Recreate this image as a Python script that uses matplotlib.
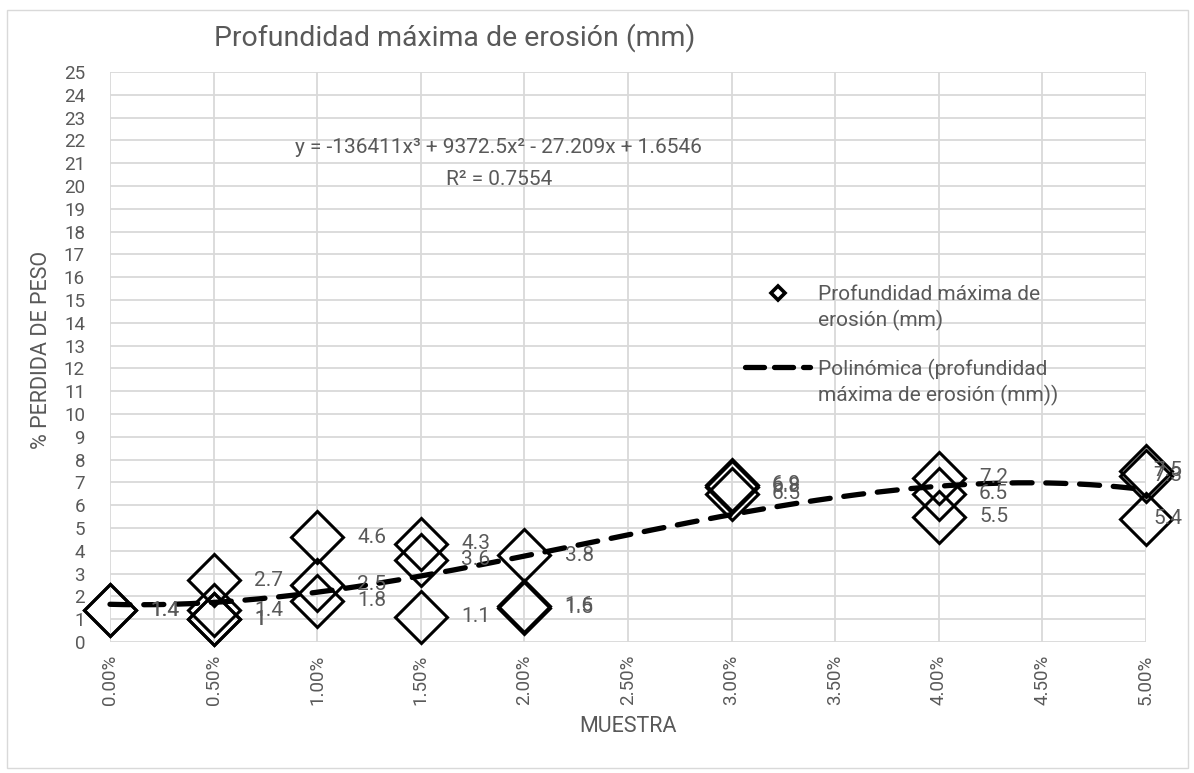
import numpy as np
import matplotlib.pyplot as plt
from matplotlib.lines import Line2D
from matplotlib.patches import Rectangle

plt.rcParams['font.family'] = ['Roboto', 'DejaVu Sans']

# muestra (% de aditivo) y profundidad máxima de erosión (mm)
muestra = [0.0, 0.0,
           0.005, 0.005, 0.005, 0.005,
           0.01, 0.01, 0.01,
           0.015, 0.015, 0.015,
           0.02, 0.02, 0.02,
           0.03, 0.03, 0.03,
           0.04, 0.04, 0.04,
           0.05, 0.05, 0.05]
profundidad = [1.4, 1.4,
               2.7, 1.4, 1, 1,
               4.6, 2.5, 1.8,
               4.3, 3.6, 1.1,
               3.8, 1.6, 1.5,
               6.9, 6.8, 6.5,
               7.2, 6.5, 5.5,
               7.5, 7.3, 5.4]
coef = [-136411, 9372.5, -27.209, 1.6546]
r2 = 0.7554
x_ticks = [0.0, 0.005, 0.01, 0.015, 0.02, 0.025, 0.03, 0.035, 0.04, 0.045, 0.05]
x_labels = ['0.00%', '0.50%', '1.00%', '1.50%', '2.00%', '2.50%', '3.00%', '3.50%', '4.00%', '4.50%', '5.00%']
y_ticks = list(range(0, 26))

gris = '#595959'
grid_c = '#d9d9d9'

fig = plt.figure(figsize=(11.94, 7.73), dpi=100)
ax = fig.add_axes([110/1194, 131/773, 1036/1194, 570/773])

# tendencia polinómica
xs = np.linspace(0, 0.05, 300)
ax.plot(xs, np.polyval(coef, xs), color='black', lw=3.8, dashes=(3.8, 2.6),
        dash_capstyle='round', zorder=4, clip_on=False)

ax.plot(muestra, profundidad, 'D', ms=26.5, mfc='none', mec='black', mew=2.2,
        clip_on=False, zorder=3)

for x, y in zip(muestra, profundidad):
    # en el borde derecho la etiqueta se queda dentro del área del gráfico
    dx = 29 if x < max(muestra) else 5
    ax.annotate(f'{y:g}', (x, y), xytext=(dx, 0), textcoords='offset points',
                va='center', ha='left', color=gris, fontsize=15,
                annotation_clip=False, zorder=5)

ax.set_xlim(0, 0.05)
ax.set_ylim(0, 25)
ax.set_xticks(x_ticks)
ax.set_xticklabels(x_labels, rotation=90)
ax.set_yticks(y_ticks)
ax.tick_params(length=0, colors=gris, labelsize=13.5)
ax.tick_params(axis='x', pad=9)
ax.tick_params(axis='y', pad=18)
ax.grid(color=grid_c, lw=1.3)
ax.set_axisbelow(True)
for s in ax.spines.values():
    s.set_visible(False)

ax.set_ylabel('% PERDIDA DE PESO', color=gris, fontsize=15.5)
ax.yaxis.set_label_coords(-0.056, 0.512)
ax.set_xlabel('MUESTRA', color=gris, fontsize=15.5)
ax.xaxis.set_label_coords(0.5, -0.13)

ax.text(0.3745, 0.8667, 'y = -136411x³ + 9372.5x² - 27.209x + 1.6546',
        transform=ax.transAxes, ha='center', va='center', color=gris, fontsize=15)
ax.text(0.3755, 0.812, f'R² = {r2}', transform=ax.transAxes,
        ha='center', va='center', color=gris, fontsize=15)

fig.text(455/1194, 1 - 38/773, 'Profundidad máxima de erosión (mm)',
         ha='center', va='center', color=gris, fontsize=20.5)

# leyenda
fig.add_artist(Line2D([778/1194], [1 - 293/773], marker='D', ms=7, mfc='none',
                      mec='black', mew=2.6, transform=fig.transFigure))
fig.add_artist(Line2D([745/1194, 810/1194], [1 - 367/773, 1 - 367/773], color='black',
                      lw=3.8, dashes=(3.6, 1.9), dash_capstyle='round',
                      transform=fig.transFigure))
fig.text(818/1194, 1 - 308/773, 'Profundidad máxima de\nerosión (mm)', ha='left',
         va='center', color=gris, fontsize=15, linespacing=1.3)
fig.text(818/1194, 1 - 382/773, 'Polinómica (profundidad\nmáxima de erosión (mm))',
         ha='left', va='center', color=gris, fontsize=15, linespacing=1.3)

fig.add_artist(Rectangle((7/1194, 5/773), 1181/1194, 758/773, fill=False,
                         ec=grid_c, lw=1, transform=fig.transFigure))

fig.savefig('out.png', dpi=100)
